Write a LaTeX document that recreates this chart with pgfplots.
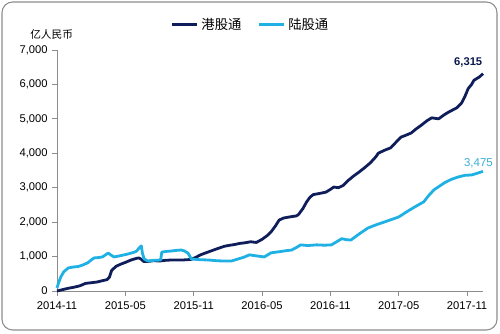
\documentclass[border=0pt]{standalone}
\usepackage{pgfplots}
\pgfplotsset{compat=1.18}
\usepackage{fontspec}
\setmainfont{Liberation Sans}
\newfontfamily\cjk{Noto Sans CJK SC}
\definecolor{hk}{HTML}{0F1E5A}
\definecolor{sh}{HTML}{1FB1E3}
\definecolor{shl}{HTML}{3AAFD3}
\definecolor{ax}{HTML}{8C8C8C}
\begin{document}
\begin{tikzpicture}
\useasboundingbox (-42.75pt,-32.25pt) rectangle (332.25pt,218.25pt);
\draw[ax, line width=0.8pt, rounded corners=8pt] (-41.25pt,-29.25pt) rectangle (330pt,216.75pt);
\begin{axis}[
  at={(0pt,0pt)}, anchor=origin,
  scale only axis, width=319.5pt, height=180.75pt,
  xmin=0, xmax=37.4, ymin=0, ymax=7000,
  axis x line=bottom, axis y line=left,
  axis line style={ax, -, line width=0.7pt},
  xtick={0,6,12,18,24,30,36},
  xticklabels={2014-11,2015-05,2015-11,2016-05,2016-11,2017-05,2017-11},
  ytick={0,1000,...,7000},
  tick style={ax, line width=0.7pt},
  major tick length=3.5pt,
  xtick align=outside, ytick align=outside,
  tick label style={font=\fontsize{8.4}{10}\selectfont, text=black},
  /pgf/number format/assume math mode=true,
  /pgf/number format/.cd, 1000 sep={,},
  /pgfplots/.cd,
  xticklabel style={yshift=-1pt},
  legend columns=2,
  legend style={draw=none, fill=none, at={(0.455,1)}, anchor=south, yshift=10pt,
    font=\cjk\fontsize{10}{11}\selectfont, column sep=0pt, inner xsep=1pt,
    /tikz/every even column/.append style={column sep=10pt}},
  legend image code/.code={\draw[#1] (0pt,0pt) -- (19pt,0pt);},
  clip=false,
]
\addplot[hk, line width=2.1pt, line join=round] coordinates {
(0,0) (0.5,40) (1,80) (1.5,110) (2,150) (2.5,220) (3,240) (3.5,260) (4,300) (4.4,330) (4.6,400) (4.8,600) (5.2,720) (5.6,780) (6,830) (6.5,900) (7,950) (7.2,960) (7.4,920) (7.6,860) (8,860) (8.5,880) (9,870) (9.5,890) (10,900) (10.5,900) (11,900) (11.5,910) (11.8,920) (12.2,980) (12.6,1050) (13,1100) (13.5,1160) (14,1220) (14.7,1300) (15.2,1330) (15.6,1350) (16,1380) (16.5,1400) (17,1430) (17.5,1410) (18,1500) (18.5,1620) (18.8,1720) (19.2,1900) (19.5,2060) (19.9,2120) (20.4,2150) (21,2180) (21.2,2220) (21.6,2400) (21.9,2580) (22.2,2720) (22.5,2800) (23,2830) (23.6,2870) (24,2950) (24.3,3020) (24.7,3000) (25.1,3060) (25.6,3220) (26,3330) (26.5,3450) (27,3580) (27.5,3720) (28,3900) (28.2,4000) (28.7,4080) (29.3,4160) (29.7,4300) (30.2,4470) (30.6,4520) (31.1,4590) (31.5,4700) (32,4820) (32.5,4950) (32.9,5030) (33.5,5000) (34,5120) (34.4,5200) (35.1,5320) (35.5,5450) (35.8,5640) (36.1,5880) (36.4,6000) (36.6,6120) (37.1,6220) (37.4,6315)
};
\addlegendentry{港股通}
\addplot[sh, line width=2.1pt, line join=round] coordinates {
(0,90) (0.15,250) (0.35,420) (0.6,560) (1,670) (1.5,700) (1.85,710) (2.3,760) (2.7,820) (3,900) (3.25,960) (3.6,970) (4,990) (4.3,1060) (4.5,1100) (4.8,1030) (5,990) (5.5,1020) (5.9,1050) (6.3,1080) (6.8,1130) (7,1160) (7.2,1250) (7.4,1310) (7.5,1100) (7.65,930) (8,870) (8.5,890) (9.1,900) (9.2,1130) (9.6,1150) (10,1160) (10.5,1180) (10.9,1190) (11.2,1160) (11.5,1100) (11.8,930) (12.5,910) (13.3,900) (14,880) (14.6,870) (15.3,870) (15.8,920) (16.4,980) (16.9,1050) (17.5,1020) (18.2,990) (18.8,1110) (19.5,1140) (20.1,1170) (20.6,1190) (21,1260) (21.4,1340) (22,1320) (22.8,1340) (23.5,1330) (24.1,1340) (24.6,1440) (25,1520) (25.4,1490) (25.8,1480) (26.5,1650) (27.3,1830) (28,1920) (28.7,2000) (29.4,2080) (30,2150) (30.7,2300) (31.4,2440) (32.2,2590) (32.6,2760) (33.1,2940) (33.6,3050) (34,3140) (34.6,3240) (35.2,3310) (35.8,3360) (36.4,3370) (36.9,3420) (37.4,3475)
};
\addlegendentry{陆股通}
\node[font=\bfseries\fontsize{8.4}{10}\selectfont, text=hk!85!black] at (axis cs:36.1,6630) {6,315};
\node[font=\fontsize{8.6}{10}\selectfont, text=shl] at (axis cs:37.0,3720) {3,475};
\node[font=\cjk\fontsize{8}{10}\selectfont] at ([xshift=-4pt, yshift=12pt]rel axis cs:0,1) {亿人民币};
\end{axis}
\end{tikzpicture}
\end{document}
